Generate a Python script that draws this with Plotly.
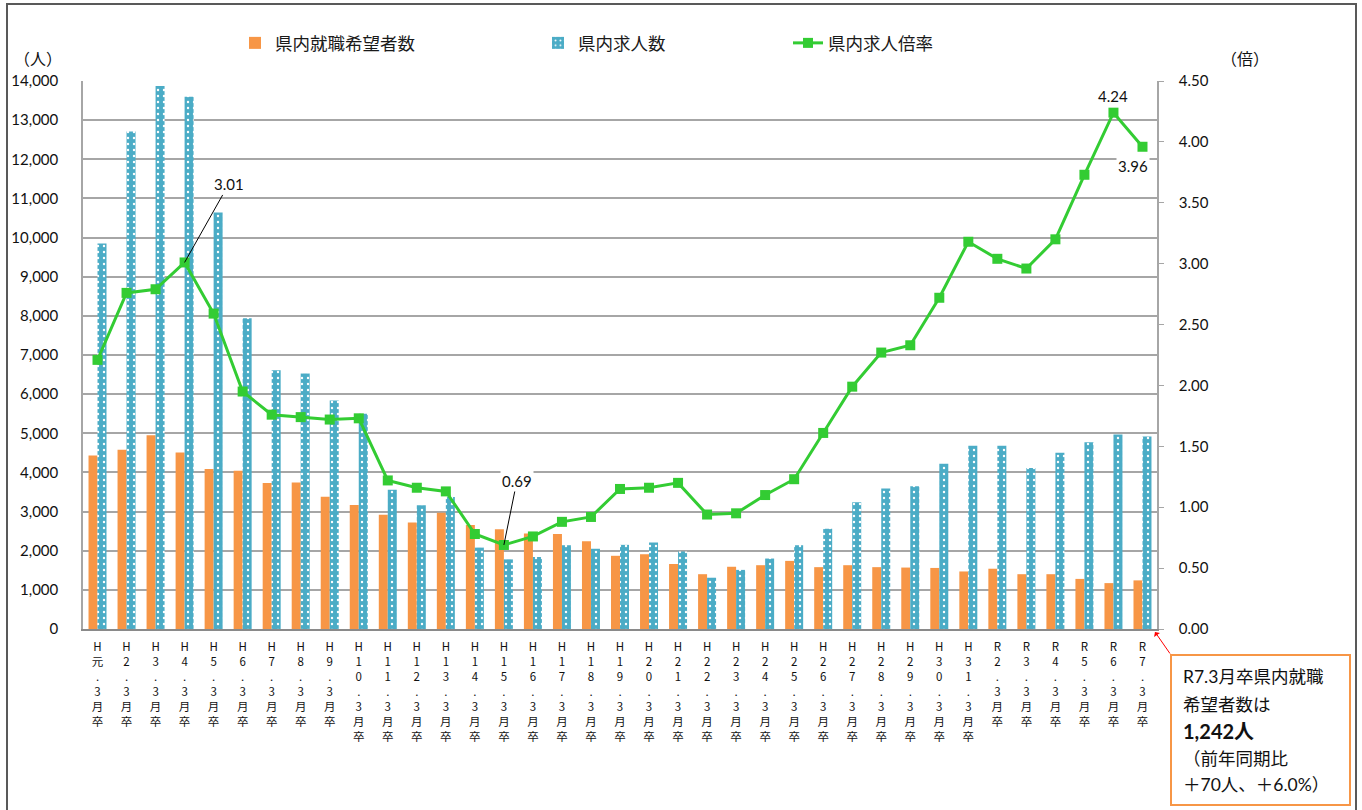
import plotly.graph_objects as go

# ---- data ----
era_labels = (["H元"] + [f"H{i}" for i in range(2, 32)] + [f"R{i}" for i in range(2, 8)])
categories = [f"{e}.3月卒" for e in era_labels]

hope_counts = [4430, 4580, 4950, 4510, 4090, 4040, 3730, 3740, 3380, 3170,
               2920, 2720, 2970, 2660, 2550, 2440, 2430, 2240, 1870, 1910,
               1660, 1400, 1590, 1630, 1740, 1580, 1630, 1580, 1570, 1560,
               1470, 1540, 1400, 1400, 1280, 1172, 1242]

job_counts = [9850, 12710, 13870, 13600, 10640, 7940, 6610, 6530, 5840, 5500,
              3560, 3160, 3370, 2080, 1780, 1840, 2140, 2050, 2150, 2210,
              1980, 1310, 1510, 1800, 2140, 2560, 3240, 3590, 3650, 4220,
              4680, 4680, 4110, 4500, 4770, 4970, 4920]

job_ratio = [2.21, 2.76, 2.79, 3.01, 2.59, 1.95, 1.76, 1.74, 1.72, 1.73,
             1.22, 1.16, 1.13, 0.78, 0.69, 0.76, 0.88, 0.92, 1.15, 1.16,
             1.20, 0.94, 0.95, 1.10, 1.23, 1.61, 1.99, 2.27, 2.33, 2.72,
             3.18, 3.04, 2.96, 3.20, 3.73, 4.24, 3.96]

series_names = ["県内就職希望者数", "県内求人数", "県内求人倍率"]
left_ticks = list(range(0, 14001, 1000))
right_ticks = [i * 0.5 for i in range(10)]

tick_text = ["<br>".join(list(c)) for c in categories]

ORANGE = "#F79646"
BLUE = "#4BACC6"
GREEN = "#33CC33"
JP = "Noto Sans CJK JP"
NUM = "Lato, Noto Sans CJK JP"

fig = go.Figure()
fig.add_trace(go.Bar(
    x=categories, y=hope_counts, name=series_names[0],
    marker=dict(color=ORANGE, line=dict(width=0)), legend="legend", showlegend=True))
fig.add_trace(go.Bar(
    x=categories, y=job_counts, name=series_names[1],
    marker=dict(color=BLUE, line=dict(width=0),
                pattern=dict(shape=".", fgcolor="white", bgcolor=BLUE,
                             fillmode="replace", size=6, solidity=0.12)),
    legend="legend2", showlegend=True))
fig.add_trace(go.Scatter(
    x=categories, y=job_ratio, name=series_names[2], yaxis="y2",
    mode="lines+markers", line=dict(color=GREEN, width=3),
    marker=dict(symbol="square", size=10, color=GREEN), legend="legend3", showlegend=True))

W, H = 1362, 810
L, R, T, B = 83, 205, 81, 181
pw, ph = W - L - R, H - T - B


def px(x):
    return (x - L) / pw


def py(y):
    return (H - B - y) / ph


legend_common = dict(orientation="h", yanchor="middle", y=py(43), xanchor="left",
                     font=dict(family=JP, size=17.5, color="#1a1a1a"),
                     bgcolor="rgba(0,0,0,0)", itemwidth=30)

fig.update_layout(
    width=W, height=H, autosize=False,
    margin=dict(l=L, r=R, t=T, b=B, pad=0, autoexpand=False),
    paper_bgcolor="white", plot_bgcolor="white",
    barmode="group", bargap=0.38, bargroupgap=0,
    hovermode=False, showlegend=True,
    legend=dict(x=px(235), **legend_common),
    legend2=dict(x=px(538), **legend_common),
    legend3=dict(x=px(788), **legend_common),
    xaxis=dict(type="category", categoryorder="array", categoryarray=categories,
               range=[-0.5, len(categories) - 0.5], autorange=False,
               tickvals=categories, ticktext=tick_text, tickangle=0,
               tickfont=dict(family=JP, size=11.5, color="#111"),
               showline=True, linecolor="#8a8a8a", linewidth=2,
               ticks="", showgrid=False, ticklabelstandoff=6, automargin=False),
    yaxis=dict(range=[0, 14000], autorange=False, tickvals=left_ticks, tickformat=",",
               tickfont=dict(family=NUM, size=15, color="#111"),
               showgrid=True, gridcolor="#A6A6A6", gridwidth=1.5,
               showline=True, linecolor="#A6A6A6", linewidth=1.5,
               zeroline=False, ticks="", ticklabelstandoff=20, automargin=False),
    yaxis2=dict(range=[0, 4.5], autorange=False, tickvals=right_ticks, tickformat=".2f",
                overlaying="y", side="right",
                tickfont=dict(family=NUM, size=15, color="#111"),
                showgrid=False, zeroline=False,
                showline=True, linecolor="#A6A6A6", linewidth=1.5,
                ticks="outside", ticklen=5, tickcolor="#A6A6A6", ticklabelstandoff=12,
                automargin=False),
)

annotations = [
    dict(text="（人）", xref="paper", yref="paper", x=px(38), y=py(58),
         xanchor="center", yanchor="middle",
         showarrow=False, font=dict(family=JP, size=16, color="#111")),
    dict(text="（倍）", xref="paper", yref="paper", x=px(1245), y=py(58),
         xanchor="center", yanchor="middle",
         showarrow=False, font=dict(family=JP, size=16, color="#111")),
    # data labels
    dict(text="3.01", x=categories[3], y=job_ratio[3], xref="x", yref="y2",
         showarrow=True, arrowhead=0, arrowwidth=1, arrowcolor="#000",
         ax=44, ay=-78, bgcolor="white", font=dict(family=NUM, size=15, color="#111")),
    dict(text="0.69", x=categories[14], y=job_ratio[14], xref="x", yref="y2",
         showarrow=True, arrowhead=0, arrowwidth=1, arrowcolor="#000",
         ax=13, ay=-64, bgcolor="white", font=dict(family=NUM, size=15, color="#111")),
    dict(text="4.24", x=categories[35], y=job_ratio[35], xref="x", yref="y2",
         showarrow=False, yshift=17, bgcolor="white",
         font=dict(family=NUM, size=15, color="#111")),
    dict(text="3.96", x=categories[36], y=job_ratio[36], xref="x", yref="y2",
         showarrow=False, xshift=-9, yshift=-19, bgcolor="white",
         font=dict(family=NUM, size=15, color="#111")),
    # red arrow to the note box
    dict(text="", xref="paper", yref="paper", x=px(1155), y=py(632),
         showarrow=True, arrowhead=1, arrowsize=1.2, arrowwidth=1, arrowcolor="red",
         ax=16, ay=23),
]

note_lines = [
    ("R7.3月卒県内就職", 677, 17.5, False),
    ("希望者数は", 704, 17.5, False),
    ("1,242人", 731, 20, True),
    ("（前年同期比", 758, 17.5, False),
    ("＋70人、＋6.0%）", 784, 17.5, False),
]
for txt, yy, sz, bold in note_lines:
    annotations.append(dict(
        text=f"<b>{txt}</b>" if bold else txt, xref="paper", yref="paper",
        x=px(1181), y=py(yy), xanchor="left", yanchor="middle", showarrow=False,
        font=dict(family=NUM, size=sz, color="#111")))

fig.update_layout(annotations=annotations)

fig.update_layout(shapes=[
    dict(type="rect", xref="paper", yref="paper",
         x0=px(7), x1=px(1356), y0=py(830), y1=py(4),
         line=dict(color="#595959", width=2), fillcolor="rgba(0,0,0,0)", layer="below"),
    dict(type="rect", xref="paper", yref="paper",
         x0=px(1171), x1=px(1350), y0=py(805), y1=py(655),
         line=dict(color=ORANGE, width=2), fillcolor="white", layer="above"),
])

fig.write_html("out.html", config={"displayModeBar": False},
               post_script="document.body.style.margin='0';document.body.style.padding='0';")
